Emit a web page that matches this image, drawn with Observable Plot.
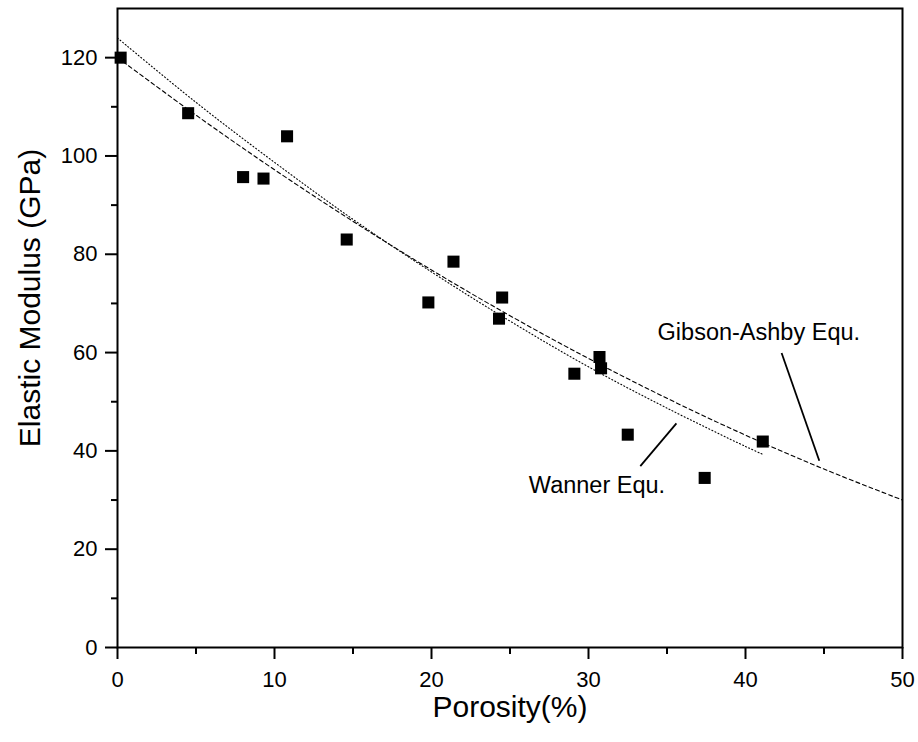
<!DOCTYPE html>
<html><head><meta charset="utf-8">
<script src="https://cdn.jsdelivr.net/npm/d3@7"></script>
<script src="https://cdn.jsdelivr.net/npm/@observablehq/plot@0.6"></script>
<style>html,body{margin:0;padding:0;background:#fff} svg{display:block}</style>
</head><body><div id="chart"></div>
<script>
// Measured points
const porosity = [0.2, 4.5, 8.0, 9.3, 10.8, 14.6, 19.8, 21.4, 24.3, 24.5, 29.1, 30.7, 30.8, 32.5, 37.4, 41.1];
const modulus  = [120.0, 108.7, 95.7, 95.4, 104.0, 83.0, 70.2, 78.5, 66.9, 71.2, 55.7, 59.1, 56.8, 43.3, 34.5, 41.9];

// Gibson-Ashby curve (dashed)
const gibsonX = [0, 5, 10, 15, 20, 25, 30, 35, 40, 45, 50];
const gibsonY = [120, 108.3, 97.2, 86.7, 76.8, 67.5, 58.8, 50.7, 43.2, 36.3, 30.0];

// Wanner curve (dotted)
const wannerX = [0, 5, 10, 15, 20, 25, 30, 35, 40, 41.1];
const wannerY = [124, 110.9, 98.7, 87.1, 76.4, 66.4, 57.1, 48.7, 40.9, 39.3];

// Tick values
const xMajor = [0, 10, 20, 30, 40, 50];
const xMinor = [5, 15, 25, 35, 45];
const yMajor = [0, 20, 40, 60, 80, 100, 120];
const yMinor = [10, 30, 50, 70, 90, 110];

// Annotations
const noteText = ["Gibson-Ashby Equ.", "Wanner Equ."];
const noteX = [34.4, 26.2];
const noteY = [62.5, 31.5];
const leaderX1 = [42.3, 35.6];
const leaderY1 = [59.9, 45.6];
const leaderX2 = [44.7, 33.3];
const leaderY2 = [38.0, 36.9];

const points = porosity.map((p, i) => ({p, e: modulus[i]}));
const gibson = gibsonX.map((p, i) => ({p, e: gibsonY[i]}));
const wanner = wannerX.map((p, i) => ({p, e: wannerY[i]}));
const notes = noteText.map((t, i) => ({t, x: noteX[i], y: noteY[i]}));
const leaders = leaderX1.map((x1, i) => ({x1, y1: leaderY1[i], x2: leaderX2[i], y2: leaderY2[i]}));

const font = "Arial, 'Liberation Sans', sans-serif";

const chart = Plot.plot({
  width: 918,
  height: 742,
  marginLeft: 117,
  marginRight: 16,
  marginTop: 8,
  marginBottom: 95,
  style: {fontFamily: font, fontSize: "22px", color: "black", background: "white"},
  x: {domain: [0, 50]},
  y: {domain: [0, 130]},
  marks: [
    Plot.line(wanner, {x: "p", y: "e", curve: "catmull-rom", stroke: "black", strokeWidth: 1.1, strokeDasharray: "1,2.4"}),
    Plot.line(gibson, {x: "p", y: "e", curve: "catmull-rom", stroke: "black", strokeWidth: 1.1, strokeDasharray: "4,3"}),
    Plot.link(leaders, {x1: "x1", y1: "y1", x2: "x2", y2: "y2", stroke: "black", strokeWidth: 1.8}),
    Plot.text(notes, {x: "x", y: "y", text: "t", textAnchor: "start", lineAnchor: "bottom", fontSize: 23.5, fill: "black"}),
    Plot.dot(points, {x: "p", y: "e", symbol: "square", r: 6.8, fill: "black", stroke: "none"}),
    Plot.frame({stroke: "black", strokeWidth: 2}),
    Plot.axisX({ticks: xMajor, tickSize: 12, tickPadding: 12, fontSize: 22, strokeWidth: 2, label: null}),
    Plot.axisX({ticks: xMinor, tickSize: 7, tickFormat: () => "", strokeWidth: 2, label: null}),
    Plot.axisY({ticks: yMajor, tickSize: 12, tickPadding: 8, fontSize: 22, strokeWidth: 2, label: null}),
    Plot.axisY({ticks: yMinor, tickSize: 6, tickFormat: () => "", strokeWidth: 2, label: null}),
    Plot.text(["Porosity(%)"], {frameAnchor: "bottom", dy: 60, text: d => d, textAnchor: "middle", lineAnchor: "middle", fontSize: 30, fill: "black"}),
    Plot.text(["Elastic Modulus (GPa)"], {frameAnchor: "left", dx: -87, dy: -30, rotate: -90, text: d => d, textAnchor: "middle", lineAnchor: "middle", fontSize: 30, fill: "black"})
  ]
});
document.getElementById("chart").appendChild(chart);
</script>
</body></html>
